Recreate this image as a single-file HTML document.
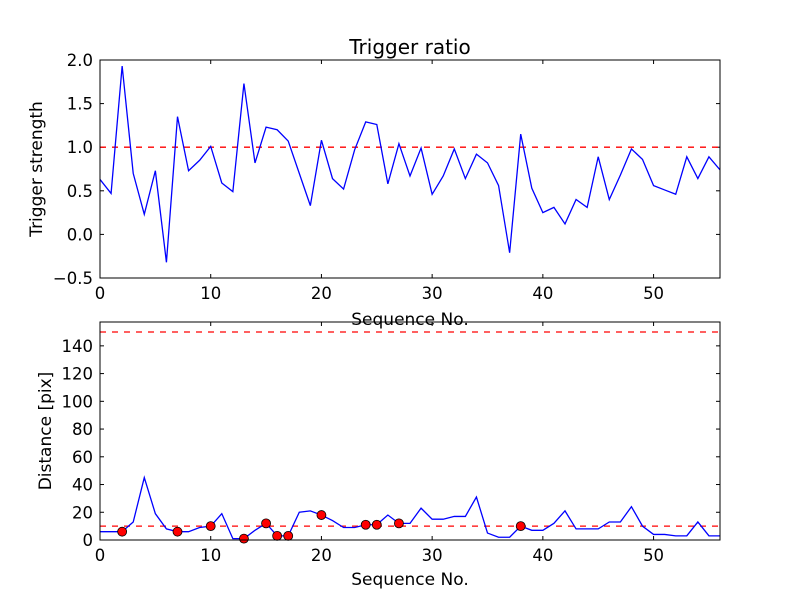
<!DOCTYPE html>
<html><head><meta charset="utf-8"><style>
body{margin:0;background:#fff;}
svg{display:block;font-family:"DejaVu Sans","Liberation Sans",sans-serif;}
</style></head><body>
<svg id="c" width="800" height="600"></svg>
<script>
const seq = Array.from({length:57},(_,i)=>i);
const ratio = [0.63,0.47,1.93,0.70,0.23,0.73,-0.32,1.35,0.73,0.85,1.01,0.59,0.49,1.73,0.82,1.23,1.20,1.07,0.70,0.33,1.08,0.64,0.52,0.97,1.29,1.26,0.58,1.04,0.67,0.99,0.46,0.67,0.98,0.64,0.92,0.82,0.56,-0.21,1.15,0.53,0.25,0.31,0.12,0.40,0.31,0.89,0.40,0.68,0.98,0.86,0.56,0.51,0.46,0.89,0.64,0.89,0.74];
const dist = [6,6,6,13,45,19,8,6,6,9,10,19,1,1,7,12,3,3,20,21,18,14,9,9,11,11,18,12,12,23,15,15,17,17,31,5,2,2,10,7,7,12,21,8,8,8,13,13,24,10,4,4,3,3,13,3,3];
const flagged = [2,7,10,13,15,16,17,20,24,25,27,38];
const xTicks = [0,10,20,30,40,50];
const yTicksTop = [-0.5,0.0,0.5,1.0,1.5,2.0];
const yTicksBot = [0,20,40,60,80,100,120,140];
const ratioThreshold = 1.0;
const distThresholds = [10,150];

const svg = document.getElementById('c');
const NS='http://www.w3.org/2000/svg';
function el(tag, attrs, parent){const e=document.createElementNS(NS,tag);for(const k in attrs)e.setAttribute(k,attrs[k]);(parent||svg).appendChild(e);return e;}
const L=100,R=720;
const xs = v => L + (v-0)/(56-0)*(R-L);
function panel(top,bot,ymin,ymax,yTicks,fmt,ylabel,name){
  const ys = v => bot - (v-ymin)/(ymax-ymin)*(bot-top);
  const g = el('g',{});
  
  
  const cp = 'clip-'+name;
  const cl = el('clipPath',{id:cp},g); el('rect',{x:L,y:top,width:R-L,height:bot-top},cl);
  xTicks.forEach(t=>{
    const x=xs(t);
    el('line',{x1:x,x2:x,y1:bot,y2:bot-4,stroke:'#000'},g);
    el('line',{x1:x,x2:x,y1:top,y2:top+4,stroke:'#000'},g);
    const tx=el('text',{x:x,y:bot+21,'text-anchor':'middle','font-size':'16.5'},g);tx.textContent=t;
    
    
  });
  yTicks.forEach(t=>{
    const y=ys(t);
    el('line',{x1:L,x2:L+4,y1:y,y2:y,stroke:'#000'},g);
    el('line',{x1:R,x2:R-4,y1:y,y2:y,stroke:'#000'},g);
    const tx=el('text',{x:L-7,y:y+6,'text-anchor':'end','font-size':'16.5'},g);tx.textContent=fmt(t);
    
    
  });
  const yl=el('text',{x:0,y:0,'text-anchor':'middle','font-size':'17',transform:`translate(${name==='top-panel'?42:51},${(top+bot)/2}) rotate(-90)`},g);
  yl.textContent=ylabel;
  
  
  return {g,ys,cp};
}
const p1 = panel(60,278,-0.5,2.0,yTicksTop,t=>t.toFixed(1).replace('-','\u2212'),'Trigger strength','top-panel');
let th=el('line',{x1:L,x2:R,y1:p1.ys(ratioThreshold),y2:p1.ys(ratioThreshold),stroke:'red','stroke-width':1.3,'stroke-dasharray':'6,6'},p1.g);


let ln=el('polyline',{points:seq.map((s,i)=>xs(s)+','+p1.ys(ratio[i])).join(' '),fill:'none',stroke:'blue','stroke-width':1.3,'clip-path':`url(#${p1.cp})`},p1.g);


el('rect',{x:L,y:60,width:R-L,height:218,fill:'none',stroke:'#000'},p1.g);
let t1=el('text',{x:410,y:54,'text-anchor':'middle','font-size':'20'});t1.textContent='Trigger ratio';


let x1=el('text',{x:410,y:325,'text-anchor':'middle','font-size':'17'});x1.textContent='Sequence No.';



const p2 = panel(322,540,0,157.2,yTicksBot,t=>String(t),'Distance [pix]','bottom-panel');
distThresholds.forEach(v=>{
  const d=el('line',{x1:L,x2:R,y1:p2.ys(v),y2:p2.ys(v),stroke:'red','stroke-width':1.3,'stroke-dasharray':'6,6'},p2.g);
  
  
});
let ln2=el('polyline',{points:seq.map((s,i)=>xs(s)+','+p2.ys(dist[i])).join(' '),fill:'none',stroke:'blue','stroke-width':1.3,'clip-path':`url(#${p2.cp})`},p2.g);


flagged.forEach(i=>{
  const c=el('circle',{cx:xs(seq[i]),cy:p2.ys(dist[i]),r:4.5,fill:'red',stroke:'#000','stroke-width':0.8},p2.g);
  
  
});
el('rect',{x:L,y:322,width:R-L,height:218,fill:'none',stroke:'#000'},p2.g);
let x2=el('text',{x:410,y:585,'text-anchor':'middle','font-size':'17'});x2.textContent='Sequence No.';


</script>
</body></html>
